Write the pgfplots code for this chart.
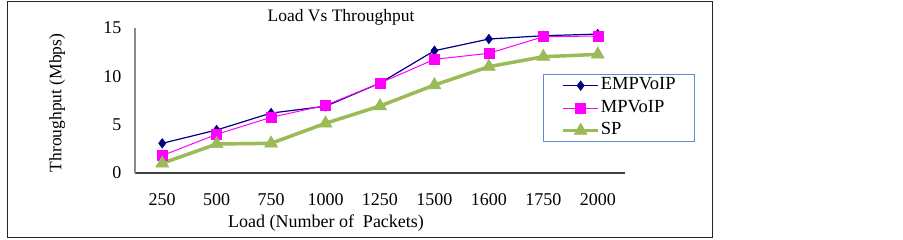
\documentclass[border=0pt]{standalone}
\usepackage{fontspec}
\setmainfont{Liberation Serif}
\usepackage{pgfplots}
\pgfplotsset{compat=1.18}
\definecolor{empblue}{HTML}{000080}
\definecolor{mpmag}{HTML}{FF00FF}
\definecolor{spgreen}{HTML}{9BBB59}
\definecolor{legblue}{HTML}{5B8BD0}
\begin{document}
\begin{tikzpicture}
\fill[white] (0pt,0pt) rectangle (903pt,-240pt);
\draw[line width=1pt, black!85] (7pt,-2pt) rectangle (712pt,-238pt);
\begin{axis}[
  at={(135pt,-173pt)}, anchor=south west,
  scale only axis, width=490pt, height=145pt,
  xmin=-0.5, xmax=8.5, ymin=0, ymax=15,
  xtick={0,1,2,3,4,5,6,7,8},
  xticklabels={250,500,750,1000,1250,1500,1600,1750,2000},
  ytick={0,5,10,15},
  axis x line*=bottom, axis y line*=left,
  x axis line style={-, line width=1.5pt, black!75},
  y axis line style={-, line width=1.5pt, black!45},
  major tick length=0pt,
  clip=false,
  /pgf/number format/assume math mode=true,
  every tick label/.append style={font=\fontsize{18}{21}\selectfont},
  yticklabel style={xshift=-10pt},
  xticklabel style={yshift=-17pt},
  every axis title shift=0pt,
  title={Load Vs Throughput},
  title style={font=\fontsize{17.5}{21}\selectfont, at={(rel axis cs:0.4204,1.0759)}, anchor=center},
  xlabel={Load (Number of \ Packets)},
  xlabel style={font=\fontsize{18}{21}\selectfont, at={(rel axis cs:0.3898,-0.345)}, anchor=center},
  ylabel={Throughput (Mbps)},
  ylabel style={font=\fontsize{17.5}{21}\selectfont, at={(rel axis cs:-0.159,0.483)}, anchor=center, rotate=0},
  legend style={at={(rel axis cs:0.8327,0.6828)}, anchor=north west,
    draw=legblue, line width=0.8pt, inner xsep=18pt, inner ysep=0pt,
    font=\fontsize{18.5}{21}\selectfont, row sep=0pt,
    nodes={inner sep=1pt, text height=14.5pt, text depth=6pt}},
  legend cell align=left,
  legend image code/.code={\draw[mark repeat=2,mark phase=2,#1] plot coordinates {(0pt,0pt) (17.5pt,0pt) (35pt,0pt)};},
]
\addplot[empblue, line width=1.2pt, mark=diamond*, mark size=4.8pt, mark options={fill=empblue, line width=0.5pt}]
  coordinates {(0,3.07) (1,4.45) (2,6.2) (3,6.9) (4,9.3) (5,12.65) (6,13.86) (7,14.2) (8,14.37)};
\addlegendentry{EMPVoIP}
\addplot[mpmag, line width=1pt, mark=square*, mark size=5pt, mark options={fill=mpmag, line width=0.5pt}]
  coordinates {(0,1.8) (1,4.0) (2,5.76) (3,7.0) (4,9.3) (5,11.76) (6,12.38) (7,14.1) (8,14.17)};
\addlegendentry{MPVoIP}
\addplot[spgreen, line width=3.5pt, mark=triangle*, mark size=7.5pt, mark options={fill=spgreen, line width=0.5pt}]
  coordinates {(0,1.0) (1,3.0) (2,3.07) (3,5.14) (4,6.93) (5,9.1) (6,11.0) (7,12.03) (8,12.27)};
\addlegendentry{SP}
\end{axis}
\end{tikzpicture}
\end{document}
